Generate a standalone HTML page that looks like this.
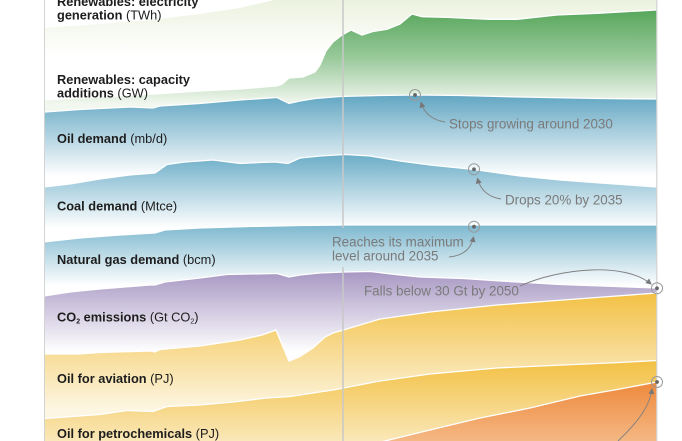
<!DOCTYPE html>
<html>
<head>
<meta charset="utf-8">
<style>
html,body{margin:0;padding:0;background:#fff;}
body{width:682px;height:441px;overflow:hidden;}
svg{display:block;}
.lab{font-family:"Liberation Sans",Arial,sans-serif;font-size:12.8px;fill:#1d1d1d;}
.b{font-weight:700;}
.ann{font-family:"Liberation Sans",Arial,sans-serif;font-size:13.4px;fill:#7a7a7a;}
</style>
</head>
<body>
<svg width="682" height="441" viewBox="0 0 682 441" xmlns="http://www.w3.org/2000/svg">
<defs>
  <clipPath id="plot"><rect x="45" y="0" width="611.5" height="441"/></clipPath>
  <linearGradient id="gElec" gradientUnits="userSpaceOnUse" x1="0" y1="0" x2="0" y2="55">
    <stop offset="0" stop-color="#ecf2df"/><stop offset="1" stop-color="#ffffff"/>
  </linearGradient>
  <linearGradient id="gCap" gradientUnits="userSpaceOnUse" x1="0" y1="8" x2="0" y2="104">
    <stop offset="0" stop-color="#55a559"/><stop offset="0.5" stop-color="#96c898"/><stop offset="1" stop-color="#f2f7ef"/>
  </linearGradient>
  <linearGradient id="gOil" gradientUnits="userSpaceOnUse" x1="0" y1="93" x2="0" y2="176">
    <stop offset="0" stop-color="#5ea4c1"/><stop offset="1" stop-color="#ffffff"/>
  </linearGradient>
  <linearGradient id="gCoal" gradientUnits="userSpaceOnUse" x1="0" y1="150" x2="0" y2="228">
    <stop offset="0" stop-color="#62a8c4"/><stop offset="1" stop-color="#ffffff"/>
  </linearGradient>
  <linearGradient id="gGas" gradientUnits="userSpaceOnUse" x1="0" y1="214" x2="0" y2="286">
    <stop offset="0" stop-color="#66abc6"/><stop offset="1" stop-color="#ffffff"/>
  </linearGradient>
  <linearGradient id="gCO2" gradientUnits="userSpaceOnUse" x1="0" y1="268" x2="0" y2="352">
    <stop offset="0" stop-color="#a393c0"/><stop offset="1" stop-color="#ffffff"/>
  </linearGradient>
  <linearGradient id="gAv" gradientUnits="userSpaceOnUse" x1="0" y1="290" x2="0" y2="410">
    <stop offset="0" stop-color="#f2bf40"/><stop offset="1" stop-color="#fdf6e3"/>
  </linearGradient>
  <linearGradient id="gPet" gradientUnits="userSpaceOnUse" x1="0" y1="358" x2="0" y2="470">
    <stop offset="0" stop-color="#f2bf40"/><stop offset="1" stop-color="#fdf6e3"/>
  </linearGradient>
  <linearGradient id="gOr" gradientUnits="userSpaceOnUse" x1="0" y1="380" x2="0" y2="470">
    <stop offset="0" stop-color="#ed873a"/><stop offset="1" stop-color="#f8cfa6"/>
  </linearGradient>
  <marker id="arr" markerUnits="userSpaceOnUse" markerWidth="7" markerHeight="7" refX="5" refY="3" orient="auto">
    <path d="M0,0 L6,3 L0,6 z" fill="#777"/>
  </marker>
</defs>

<g clip-path="url(#plot)">
  <!-- Renewables electricity generation -->
  <path fill="url(#gElec)" d="M44,28 L100,24 L150,20 L200,14 L240,8 L270,1 L290,-4 L657,-4 L657,441 L44,441 Z"/>
  <!-- Renewables capacity additions -->
  <path fill="url(#gCap)" d="M44,100 L100,97 L155,94 L200,91 L240,89 L277,86 L282,84 L289,78 L303,77 L315,72 L320,65 L326,51 L333,42 L342,35 L351,30 L362,35 L373,31.5 L387,29.3 L400,24 L412,14 L422,16.7 L447,17.3 L490,19.3 L517,19.3 L557,15 L597,13.3 L657,10 L657,441 L44,441 Z"/>
  <polyline fill="none" stroke="#fff" stroke-width="1.3" points="44,100 100,97 155,94 200,91 240,89 277,86 282,84 289,78 303,77 315,72 320,65 326,51 333,42 342,35 351,30 362,35 373,31.5 387,29.3 400,24 412,14 422,16.7 447,17.3 490,19.3 517,19.3 557,15 597,13.3 657,10"/>
  <!-- Oil demand -->
  <path fill="url(#gOil)" d="M44,112 L80,109.5 L130,107 L153,108 L160,106 L200,103.5 L240,100 L277,97.5 L289,103.5 L300,101 L315,98.5 L340,96.5 L380,95.5 L415,95 L460,95.5 L520,97 L600,98.5 L657,99 L657,441 L44,441 Z"/>
  <polyline fill="none" stroke="#fff" stroke-width="1.3" points="44,112 80,109.5 130,107 153,108 160,106 200,103.5 240,100 277,97.5 289,103.5 300,101 315,98.5 340,96.5 380,95.5 415,95 460,95.5 520,97 600,98.5 657,99"/>
  <!-- Coal demand -->
  <path fill="url(#gCoal)" d="M44,187 L70,184 L100,179 L130,175 L155,173 L167,164.5 L185,162 L213,160 L240,163.5 L260,162.5 L275,162 L288,163.5 L300,158 L320,156 L345,154.5 L370,156 L400,161 L430,165 L474,169.5 L520,176 L560,180 L600,183 L657,187 L657,441 L44,441 Z"/>
  <polyline fill="none" stroke="#fff" stroke-width="1.3" points="44,187 70,184 100,179 130,175 155,173 167,164.5 185,162 213,160 240,163.5 260,162.5 275,162 288,163.5 300,158 320,156 345,154.5 370,156 400,161 430,165 474,169.5 520,176 560,180 600,183 657,187"/>
  <!-- Natural gas demand -->
  <path fill="url(#gGas)" d="M44,242 L80,238 L120,235 L155,233 L165,230 L200,228 L250,226.5 L300,225.5 L350,225 L657,225 L657,441 L44,441 Z"/>
  <polyline fill="none" stroke="#fff" stroke-width="1.3" points="44,242 80,238 120,235 155,233 165,230 200,228 250,226.5 300,225.5 350,225 657,225"/>
  <!-- CO2 emissions -->
  <path fill="url(#gCO2)" d="M44,296 L70,292 L100,289 L150,285 L155,285 L165,282 L200,278 L227,274.5 L250,274 L277,273.5 L289,277 L300,275 L320,273 L345,272 L370,271.5 L400,275 L420,277 L463,278.5 L500,281 L560,284.5 L657,288 L657,441 L44,441 Z"/>
  <polyline fill="none" stroke="#fff" stroke-width="1.3" points="44,296 70,292 100,289 150,285 155,285 165,282 200,278 227,274.5 250,274 277,273.5 289,277 300,275 320,273 345,272 370,271.5 400,275 420,277 463,278.5 500,281 560,284.5 657,288"/>
  <!-- Oil for aviation -->
  <path fill="url(#gAv)" d="M44,354 L80,354 L100,352.5 L150,351 L155,352 L160,349.5 L200,346 L240,340 L262,335 L276,330 L289,361 L300,356.5 L313,348 L325,337 L333,333 L345,329.5 L380,319 L430,312 L497,305 L563,300 L610,296.5 L657,293 L657,441 L44,441 Z"/>
  <polyline fill="none" stroke="#fff" stroke-width="1.3" points="44,354 80,354 100,352.5 150,351 155,352 160,349.5 200,346 240,340 262,335 276,330 289,361 300,356.5 313,348 325,337 333,333 345,329.5 380,319 430,312 497,305 563,300 610,296.5 657,293"/>
  <!-- Oil for petrochemicals -->
  <path fill="url(#gPet)" d="M44,418.5 L100,414.5 L127,410.5 L153,411.5 L167,406.5 L200,405 L233,402 L267,398 L290,396.5 L333,390 L380,381 L430,374 L497,368 L563,365 L620,362.5 L657,360.5 L657,441 L44,441 Z"/>
  <polyline fill="none" stroke="#fff" stroke-width="1.3" points="44,418.5 100,414.5 127,410.5 153,411.5 167,406.5 200,405 233,402 267,398 290,396.5 333,390 380,381 430,374 497,368 563,365 620,362.5 657,360.5"/>
  <!-- Orange band -->
  <path fill="url(#gOr)" d="M330,455 L385,441 L430,430 L480,418 L530,408 L580,396 L620,389 L657,382 L657,460 L330,460 Z"/>
  <polyline fill="none" stroke="#fff" stroke-width="1.3" points="330,455 385,441 430,430 480,418 530,408 580,396 620,389 657,382"/>
</g>

<!-- frame lines -->
<line x1="44.5" y1="0" x2="44.5" y2="441" stroke="#d3d3d3" stroke-width="1"/>
<line x1="656.8" y1="0" x2="656.8" y2="441" stroke="#d3d3d3" stroke-width="1.2"/>
<line x1="343" y1="0" x2="343" y2="228" stroke="#c8c8c8" stroke-width="1.5"/>
<line x1="343" y1="267" x2="343" y2="441" stroke="#c8c8c8" stroke-width="1.5"/>

<!-- labels -->
<text class="lab" x="57" y="6"><tspan class="b">Renewables: electricity</tspan></text>
<text class="lab" x="57" y="19.5"><tspan class="b">generation</tspan> (TWh)</text>
<text class="lab" x="57" y="84"><tspan class="b">Renewables: capacity</tspan></text>
<text class="lab" x="57" y="97.5"><tspan class="b">additions</tspan> (GW)</text>
<text class="lab" x="57" y="143"><tspan class="b">Oil demand</tspan> (mb/d)</text>
<text class="lab" x="57" y="210.5"><tspan class="b">Coal demand</tspan> (Mtce)</text>
<text class="lab" x="57" y="264"><tspan class="b">Natural gas demand</tspan> (bcm)</text>
<text class="lab" x="57" y="321.5"><tspan class="b">CO</tspan><tspan class="b" font-size="7" dy="2">2</tspan><tspan class="b" dy="-2"> emissions</tspan> (Gt CO<tspan font-size="7" dy="2">2</tspan><tspan dy="-2">)</tspan></text>
<text class="lab" x="57" y="383"><tspan class="b">Oil for aviation</tspan> (PJ)</text>
<text class="lab" x="57" y="438"><tspan class="b">Oil for petrochemicals</tspan> (PJ)</text>

<!-- annotations -->
<g fill="none" stroke="#808080" stroke-width="0.9">
  <path d="M445,122 Q426,119 421,102.5" marker-end="url(#arr)"/>
  <path d="M501,199 Q482,196 477.5,178.5" marker-end="url(#arr)"/>
  <path d="M449,257 Q470,255 473.5,237" marker-end="url(#arr)"/>
  <path d="M520,286 C560,268 625,262 651,284" marker-end="url(#arr)"/>
  <path d="M618,441 C640,420 650,405 652,389" marker-end="url(#arr)"/>
</g>
<g fill="none" stroke="#9a9a9a" stroke-width="1">
  <circle cx="415" cy="95" r="5.5"/>
  <circle cx="474" cy="169.3" r="5.5"/>
  <circle cx="474" cy="226.7" r="5.5"/>
  <circle cx="657" cy="288.3" r="5.5"/>
  <circle cx="657" cy="382" r="5.5"/>
</g>
<g fill="#666">
  <circle cx="415" cy="95" r="1.9"/>
  <circle cx="474" cy="169.3" r="1.9"/>
  <circle cx="474" cy="226.7" r="1.9"/>
  <circle cx="657" cy="288.3" r="1.9"/>
  <circle cx="657" cy="382" r="1.9"/>
</g>

<text class="ann" x="449" y="128.5">Stops growing around 2030</text>
<text class="ann" x="505" y="204.5">Drops 20% by 2035</text>
<text class="ann" x="332" y="246.5">Reaches its maximum</text>
<text class="ann" x="332" y="260.5">level around 2035</text>
<text class="ann" x="364" y="295.5">Falls below 30 Gt by 2050</text>
</svg>
</body>
</html>
